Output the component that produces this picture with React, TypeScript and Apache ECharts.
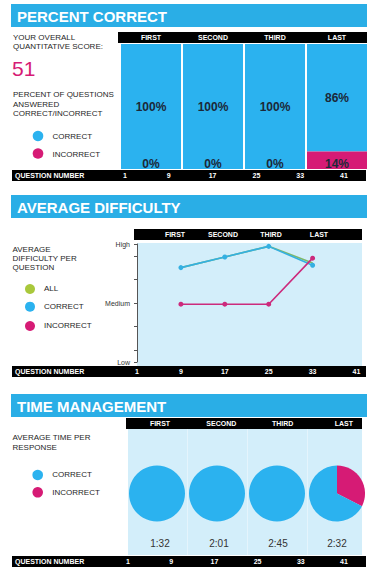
import React, { useEffect, useRef } from "react";
import * as echarts from "echarts";

// ---------- data ----------
const sectionTitles = ["PERCENT CORRECT", "AVERAGE DIFFICULTY", "TIME MANAGEMENT"];
const periods = ["FIRST", "SECOND", "THIRD", "LAST"];
const questionNumbers = [1, 9, 17, 25, 33, 41];
const overallScore = "51";
const pctIncorrect = [0, 0, 0, 14];
const pctCorrect = [100, 100, 100, 86];
const diffX = [9, 17, 25, 33];
const diffAll = [80, 89, 98, 84];
const diffCorrect = [80, 89, 98, 82];
const diffIncorrect = [49, 49, 49, 88];
const diffLabelValues = [0, 50, 100];
const diffLabelNames = ["Low", "Medium", "High"];
const diffTickValues = [0, 10, 30, 50, 70, 90, 100];
const timeLabels = ["1:32", "2:01", "2:45", "2:32"];
const timeShareIncorrect = [0, 0, 0, 32.5];
const timeShareCorrect = [100, 100, 100, 67.5];

const BLUE = "#2bb2ef";
const HEADER = "#2aaee6";
const MAGENTA = "#d61b75";
const GREEN = "#7fb86a";
const PALE = "#d3eefa";
const TXT = "#262626";
const FONT = '"Liberation Sans", Arial, sans-serif';

function txt(text: string, x: number, y: number, o: any = {}) {
  return {
    type: "text",
    z: 50,
    style: {
      text,
      x,
      y,
      fill: o.fill || TXT,
      fontSize: o.size || 8,
      fontWeight: o.weight || "normal",
      fontFamily: FONT,
      align: o.align || "left",
      verticalAlign: "middle",
    },
  };
}
function rect(x: number, y: number, w: number, h: number, fill: string, z = 1) {
  return { type: "rect", z, shape: { x, y, width: w, height: h }, style: { fill } };
}
function dot(cx: number, cy: number, fill: string, r = 5.3) {
  return { type: "circle", z: 50, shape: { cx, cy, r }, style: { fill } };
}
function whiteBold(text: string, x: number, y: number, align = "center") {
  return txt(text, x, y, { fill: "#fff", size: 7, weight: "bold", align });
}

export default function App() {
  const ref = useRef<HTMLDivElement>(null);
  useEffect(() => {
    if (!ref.current) return;
    const chart = echarts.init(ref.current, undefined, { renderer: "svg" });

    const graphics: any[] = [];
    // section headers
    const headerY = [4, 195, 394];
    sectionTitles.forEach((t, i) => {
      graphics.push(rect(11, headerY[i], 356, 23, HEADER));
      graphics.push(txt(t, 17, headerY[i] + 12, { fill: "#fff", size: 15, weight: "bold" }));
    });

    // bottom question-number bars
    const bottomBars = [170, 366, 556];
    bottomBars.forEach((y, s) => {
      graphics.push(rect(12, y, 354, 11, "#000", 10));
      graphics.push(whiteBold("QUESTION NUMBER", 15, y + 5.5, "left"));
      if (s !== 1) {
        const x0 = s === 0 ? 125 : 128;
        const step = s === 0 ? 43.8 : 43.2;
        questionNumbers.forEach((q, i) => graphics.push(whiteBold(String(q), x0 + i * step, y + 5.5)));
      }
    });

    // ---- section 1 ----
    graphics.push(rect(118, 32, 249, 11, "#000", 10));
    graphics.push(txt("YOUR OVERALL", 13, 37.5));
    graphics.push(txt("QUANTITATIVE SCORE:", 13, 46.5));
    graphics.push(txt(overallScore, 12, 68.5, { fill: MAGENTA, size: 21 }));
    graphics.push(txt("PERCENT OF QUESTIONS", 13, 94.8));
    graphics.push(txt("ANSWERED", 13, 104));
    graphics.push(txt("CORRECT/INCORRECT", 13, 113.2));
    graphics.push(dot(38, 136, BLUE));
    graphics.push(txt("CORRECT", 52.5, 136.3));
    graphics.push(dot(38, 153.5, MAGENTA));
    graphics.push(txt("INCORRECT", 52.5, 154.5));

    // ---- section 2 ----
    graphics.push(rect(134, 229, 228, 11, "#000", 10));
    periods.forEach((p, i) => graphics.push(whiteBold(p, 175 + i * 48, 234.5)));
    graphics.push(rect(137, 243, 225, 123, PALE, 1));
    graphics.push(txt("AVERAGE", 12.5, 249.7));
    graphics.push(txt("DIFFICULTY PER", 12.5, 258.7));
    graphics.push(txt("QUESTION", 12.5, 267.3));
    graphics.push(dot(30, 289, "#a9c83b", 5));
    graphics.push(txt("ALL", 44, 288.6));
    graphics.push(dot(30, 306.7, BLUE, 5));
    graphics.push(txt("CORRECT", 44, 306.8));
    graphics.push(dot(30, 326, MAGENTA, 5));
    graphics.push(txt("INCORRECT", 44, 325.3));

    // ---- section 3 ----
    graphics.push(rect(126, 418, 236, 11, "#000", 10));
    periods.forEach((p, i) => graphics.push(whiteBold(p, 160 + i * 61.3, 423.5)));
    graphics.push(rect(128, 429, 234, 126, "#e4f4fc", 1));
    periods.forEach((_, i) => {
      const x = 128 + i * 60;
      graphics.push(rect(x, 429, Math.min(59, 362 - x), 126, PALE, 2));
    });
    timeLabels.forEach((t, i) => graphics.push(txt(t, 160 + i * 59, 543.5, { size: 10, align: "center", fill: "#333" })));
    graphics.push(txt("AVERAGE TIME PER", 12.5, 437.5));
    graphics.push(txt("RESPONSE", 12.5, 447));
    graphics.push(dot(37.7, 475, BLUE));
    graphics.push(txt("CORRECT", 52.3, 474));
    graphics.push(dot(37.7, 492.3, MAGENTA));
    graphics.push(txt("INCORRECT", 52.3, 492.3));

    const barLabel = {
      show: true,
      formatter: "{c}%",
      color: "#1c2838",
      fontSize: 12,
      fontWeight: "bold",
      fontFamily: FONT,
    };

    const pies = periods.map((p, i) => ({
      type: "pie",
      name: p,
      z: 20,
      center: [157 + i * 60, 493.5],
      radius: 28,
      startAngle: 90,
      clockwise: true,
      label: { show: false },
      labelLine: { show: false },
      silent: true,
      itemStyle: { borderWidth: 0 },
      data: [
        { name: "INCORRECT", value: timeShareIncorrect[i], itemStyle: { color: MAGENTA } },
        { name: "CORRECT", value: timeShareCorrect[i], itemStyle: { color: BLUE } },
      ],
    }));

    chart.setOption({
      animation: false,
      backgroundColor: "#fff",
      textStyle: { fontFamily: FONT },
      graphic: { elements: graphics },
      grid: [
        { left: 120, top: 44, width: 248, height: 125 },
        { left: 137, top: 244, width: 225, height: 118 },
      ],
      xAxis: [
        {
          type: "category",
          gridIndex: 0,
          position: "top",
          data: periods,
          z: 30,
          axisLine: { show: false },
          axisTick: { show: false },
          axisLabel: { color: "#fff", fontSize: 7, fontWeight: "bold", margin: 3, fontFamily: FONT },
        },
        {
          type: "value",
          gridIndex: 1,
          min: 1,
          max: 42,
          z: 30,
          splitLine: { show: false },
          axisLine: { show: false },
          axisTick: { show: false },
          axisLabel: {
            customValues: questionNumbers,
            color: "#fff",
            fontSize: 7,
            fontWeight: "bold",
            margin: 6,
            fontFamily: FONT,
          },
        },
      ],
      yAxis: [
        { type: "value", gridIndex: 0, min: 0, max: 100, show: false },
        {
          type: "value",
          gridIndex: 1,
          min: 0,
          max: 100,
          z: 30,
          splitLine: { show: false },
          axisLine: { show: true, lineStyle: { color: "#555", width: 1 } },
          axisTick: { show: true, customValues: diffTickValues, length: 3, lineStyle: { color: "#555" } },
          axisLabel: {
            customValues: diffLabelValues,
            formatter: (v: number) => diffLabelNames[diffLabelValues.indexOf(v)] || "",
            color: "#333",
            fontSize: 7,
            margin: 7,
            fontFamily: FONT,
          },
        },
      ],
      series: [
        {
          type: "bar",
          name: "INCORRECT",
          xAxisIndex: 0,
          yAxisIndex: 0,
          stack: "pct",
          barWidth: 60,
          z: 5,
          itemStyle: { color: MAGENTA },
          label: { ...barLabel, position: "insideBottom", distance: -1 },
          data: pctIncorrect,
        },
        {
          type: "bar",
          name: "CORRECT",
          xAxisIndex: 0,
          yAxisIndex: 0,
          stack: "pct",
          barWidth: 60,
          z: 4,
          itemStyle: { color: BLUE },
          label: { ...barLabel, position: "inside" },
          data: pctCorrect,
        },
        {
          type: "line",
          name: "ALL",
          xAxisIndex: 1,
          yAxisIndex: 1,
          z: 5,
          symbol: "none",
          lineStyle: { color: GREEN, width: 1.6 },
          data: diffX.map((x, i) => [x, diffAll[i]]),
        },
        {
          type: "line",
          name: "CORRECT",
          xAxisIndex: 1,
          yAxisIndex: 1,
          z: 6,
          symbol: "circle",
          symbolSize: 5,
          itemStyle: { color: "#34b0e2" },
          lineStyle: { color: "#34b0e2", width: 1.6 },
          data: diffX.map((x, i) => [x, diffCorrect[i]]),
        },
        {
          type: "line",
          name: "INCORRECT",
          xAxisIndex: 1,
          yAxisIndex: 1,
          z: 7,
          symbol: "circle",
          symbolSize: 5,
          itemStyle: { color: "#cc2a7c" },
          lineStyle: { color: "#cc2a7c", width: 1.6 },
          data: diffX.map((x, i) => [x, diffIncorrect[i]]),
        },
        ...pies,
      ],
    });
    return () => chart.dispose();
  }, []);
  return <div ref={ref} style={{ position: "absolute", left: 0, top: 0, width: 369, height: 568 }} />;
}
